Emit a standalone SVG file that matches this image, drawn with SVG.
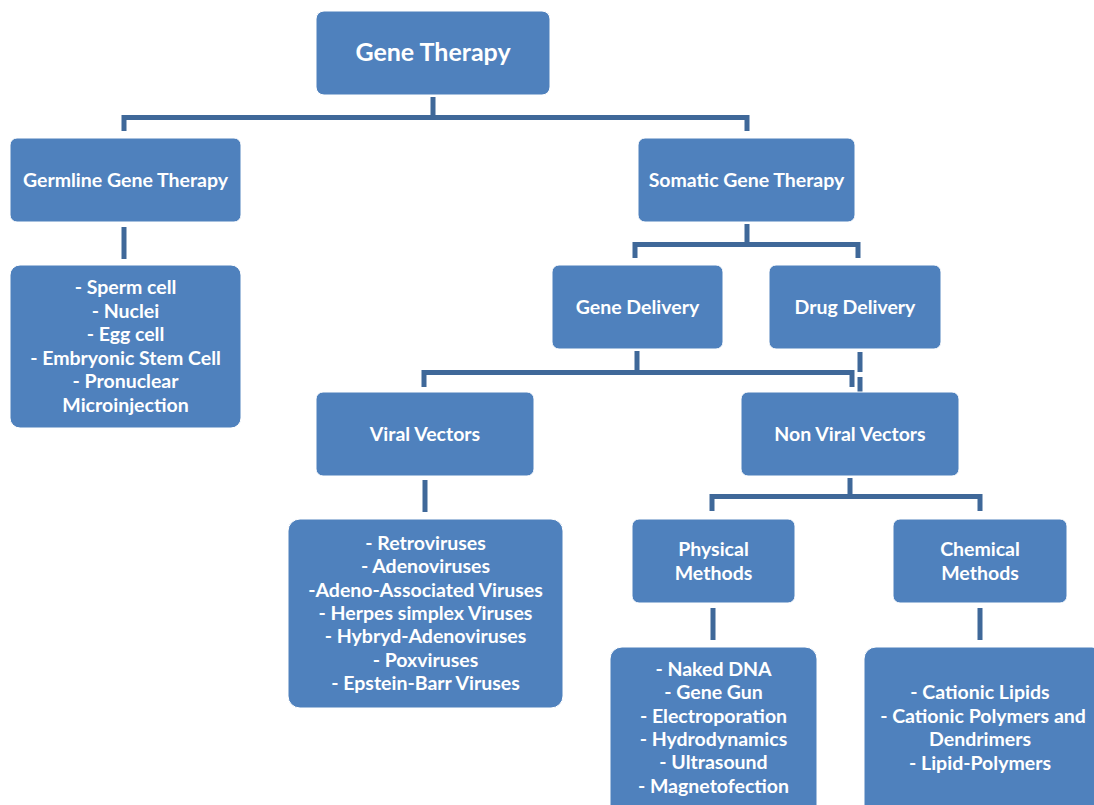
<svg xmlns="http://www.w3.org/2000/svg" width="1094" height="805" viewBox="0 0 1094 805">
<style>
.box{fill:#4F81BD;stroke:#fff;stroke-width:1}
.t{font-family:Lato,"Open Sans","Liberation Sans",sans-serif;font-weight:bold;fill:#fff;text-anchor:middle;font-size:19.5px}
.c{fill:none;stroke:#3F6899;stroke-width:5}
</style>
<rect width="1094" height="805" fill="#fff"/>
<g id="connectors">
<path class="c" d="M433,97 V120 M124,131 V117.5 H747 V131"/>
<path class="c" d="M124,227 V259"/>
<path class="c" d="M747,224 V244 M635,258 V244.5 H858 V258"/>
<path class="c" d="M637,351 V372 M424,387 V372.5 H852 V387"/>
<path class="c" d="M860,352 V372 M860,377 V392"/>
<path class="c" d="M425,480 V512"/>
<path class="c" d="M850,478 V496 M712,511 V496.5 H980 V511"/>
<path class="c" d="M713,608 V640 M980,608 V640"/>
</g>
<g id="gene-therapy"><rect class="box" x="316" y="11" width="234" height="84" rx="8"/><text class="t" x="433" y="61" style="font-size:25px">Gene Therapy</text></g>
<g id="germline"><rect class="box" x="10" y="138" width="231" height="84" rx="7"/><text class="t" x="125.5" y="187">Germline Gene Therapy</text></g>
<g id="germline-list"><rect class="box" x="10" y="265" width="231" height="163" rx="10"/>
<text class="t" x="125.5" y="294">- Sperm cell</text>
<text class="t" x="125.5" y="318">- Nuclei</text>
<text class="t" x="125.5" y="341">- Egg cell</text>
<text class="t" x="125.5" y="365">- Embryonic Stem Cell</text>
<text class="t" x="125.5" y="388">- Pronuclear</text>
<text class="t" x="125.5" y="412">Microinjection</text></g>
<g id="somatic"><rect class="box" x="638" y="138" width="217" height="84" rx="7"/><text class="t" x="746.5" y="187">Somatic Gene Therapy</text></g>
<g id="gene-delivery"><rect class="box" x="552" y="265" width="171" height="84" rx="7"/><text class="t" x="637.5" y="314">Gene Delivery</text></g>
<g id="drug-delivery"><rect class="box" x="769" y="265" width="172" height="84" rx="7"/><text class="t" x="855" y="314">Drug Delivery</text></g>
<g id="viral"><rect class="box" x="316" y="392" width="218" height="84" rx="7"/><text class="t" x="425" y="441">Viral Vectors</text></g>
<g id="viral-list"><rect class="box" x="288" y="519" width="275" height="189" rx="12"/>
<text class="t" x="425.5" y="550">- Retroviruses</text>
<text class="t" x="425.5" y="573">- Adenoviruses</text>
<text class="t" x="425.5" y="597">-Adeno-Associated Viruses</text>
<text class="t" x="425.5" y="620">- Herpes simplex Viruses</text>
<text class="t" x="425.5" y="643">- Hybryd-Adenoviruses</text>
<text class="t" x="425.5" y="667">- Poxviruses</text>
<text class="t" x="425.5" y="690">- Epstein-Barr Viruses</text></g>
<g id="non-viral"><rect class="box" x="741" y="392" width="218" height="84" rx="7"/><text class="t" x="850" y="441">Non Viral Vectors</text></g>
<g id="physical"><rect class="box" x="632" y="519" width="163" height="84" rx="7"/><text class="t" x="713.5" y="556">Physical</text><text class="t" x="713.5" y="580">Methods</text></g>
<g id="chemical"><rect class="box" x="893" y="519" width="174" height="84" rx="7"/><text class="t" x="980" y="556">Chemical</text><text class="t" x="980" y="580">Methods</text></g>
<g id="physical-list"><rect class="box" x="610" y="647" width="207" height="170" rx="12"/>
<text class="t" x="713.5" y="676">- Naked DNA</text>
<text class="t" x="713.5" y="699">- Gene Gun</text>
<text class="t" x="713.5" y="723">- Electroporation</text>
<text class="t" x="713.5" y="746">- Hydrodynamics</text>
<text class="t" x="713.5" y="769">- Ultrasound</text>
<text class="t" x="713.5" y="793">- Magnetofection</text></g>
<g id="chemical-list"><rect class="box" x="864" y="647" width="240" height="170" rx="12"/>
<text class="t" x="980" y="699">- Cationic Lipids</text>
<text class="t" x="983" y="723">- Cationic Polymers and</text>
<text class="t" x="980" y="746">Dendrimers</text>
<text class="t" x="980" y="770">- Lipid-Polymers</text></g>
</svg>
